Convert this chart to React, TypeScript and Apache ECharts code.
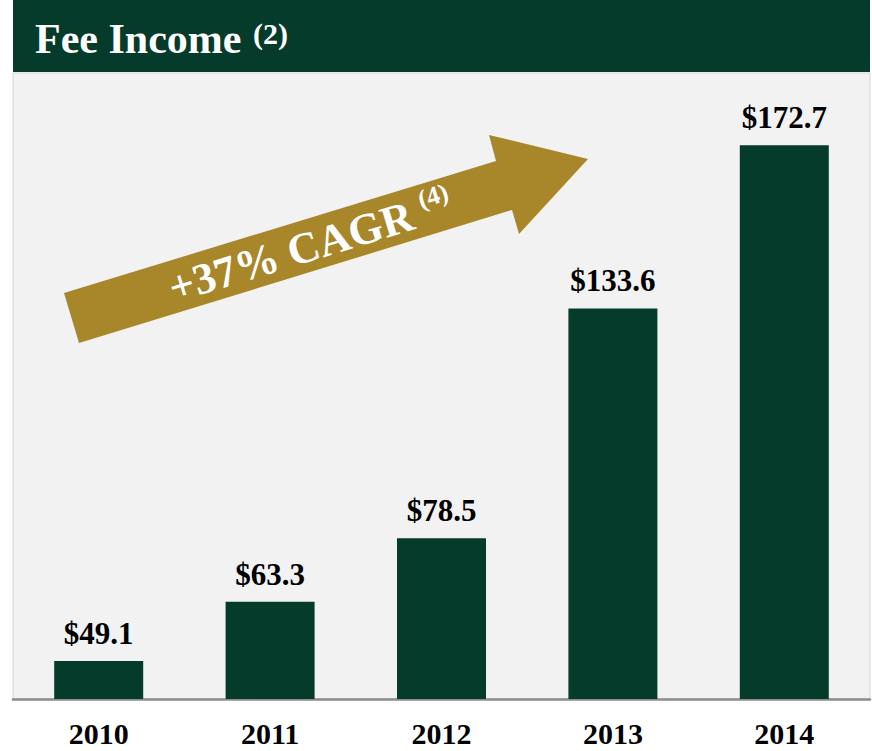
import React, { useEffect, useRef } from "react";
import * as echarts from "echarts";

const years = ["2010", "2011", "2012", "2013", "2014"];
const feeIncome = [49.1, 63.3, 78.5, 133.6, 172.7];
const titleText = "Fee Income";
const titleNote = "(2)";
const cagrText = "+37% CAGR";
const cagrNote = "(4)";

const SERIF = "Liberation Serif";
const GREEN = "#053b2a";
const GOLD = "#a8862a";

export default function App() {
  const ref = useRef<HTMLDivElement>(null);
  useEffect(() => {
    if (!ref.current) return;
    const chart = echarts.init(ref.current, undefined, { renderer: "svg" });
    const ang = (17 * Math.PI) / 180;
    chart.setOption({
      animation: false,
      grid: {
        left: 13,
        right: 2,
        top: 73,
        bottom: 52,
        show: true,
        backgroundColor: "#f2f2f2",
        borderColor: "#d4d4d4",
        borderWidth: 1,
      },
      xAxis: {
        type: "category",
        data: years,
        axisTick: { show: false },
        axisLine: { show: true, lineStyle: { color: "#8c8c8c", width: 2.5 } },
        axisLabel: {
          color: "#000",
          fontFamily: SERIF,
          fontWeight: "bold",
          fontSize: 30,
          margin: 19,
        },
      },
      yAxis: {
        type: "value",
        min: 40,
        max: 190,
        show: false,
        splitLine: { show: false },
      },
      series: [
        {
          type: "bar",
          data: feeIncome,
          barWidth: 89,
          itemStyle: { color: GREEN },
          label: {
            show: true,
            position: "top",
            distance: 12,
            color: "#000",
            fontFamily: SERIF,
            fontWeight: "bold",
            fontSize: 31,
            formatter: (p: any) => "$" + Number(p.value).toFixed(1),
          },
        },
      ],
      graphic: [
        {
          type: "rect",
          shape: { x: 13, y: 0, width: 857, height: 72 },
          style: { fill: GREEN },
          z: 10,
        },
        {
          type: "text",
          x: 35,
          y: 39,
          style: {
            text: titleText,
            fill: "#fff",
            fontFamily: SERIF,
            fontWeight: "bold",
            fontSize: 42,
            textVerticalAlign: "middle",
          },
          z: 11,
        },
        {
          type: "text",
          x: 253,
          y: 33,
          style: {
            text: titleNote,
            fill: "#fff",
            fontFamily: SERIF,
            fontWeight: "bold",
            fontSize: 30,
            textVerticalAlign: "middle",
          },
          z: 11,
        },
        {
          type: "polygon",
          shape: {
            points: [
              [64, 293],
              [496, 161],
              [489, 135],
              [588, 159],
              [519, 234],
              [512, 210],
              [79, 343],
            ],
          },
          style: { fill: GOLD },
          z: 10,
        },
        {
          type: "group",
          x: 291,
          y: 252,
          rotation: ang,
          z: 11,
          children: [
            {
              type: "text",
              x: 0,
              y: 0,
              style: {
                text: cagrText,
                fill: "#fff",
                fontFamily: SERIF,
                fontWeight: "bold",
                fontSize: 44,
                textAlign: "center",
                textVerticalAlign: "middle",
              },
              z: 11,
            },
            {
              type: "text",
              x: 137,
              y: -12,
              style: {
                text: cagrNote,
                fill: "#fff",
                fontFamily: SERIF,
                fontWeight: "bold",
                fontSize: 26,
                textAlign: "left",
                textVerticalAlign: "middle",
              },
              z: 11,
            },
          ],
        },
      ],
    });
    return () => chart.dispose();
  }, []);
  return <div ref={ref} style={{ width: 872, height: 751, position: "absolute", left: 0, top: 0 }} />;
}
